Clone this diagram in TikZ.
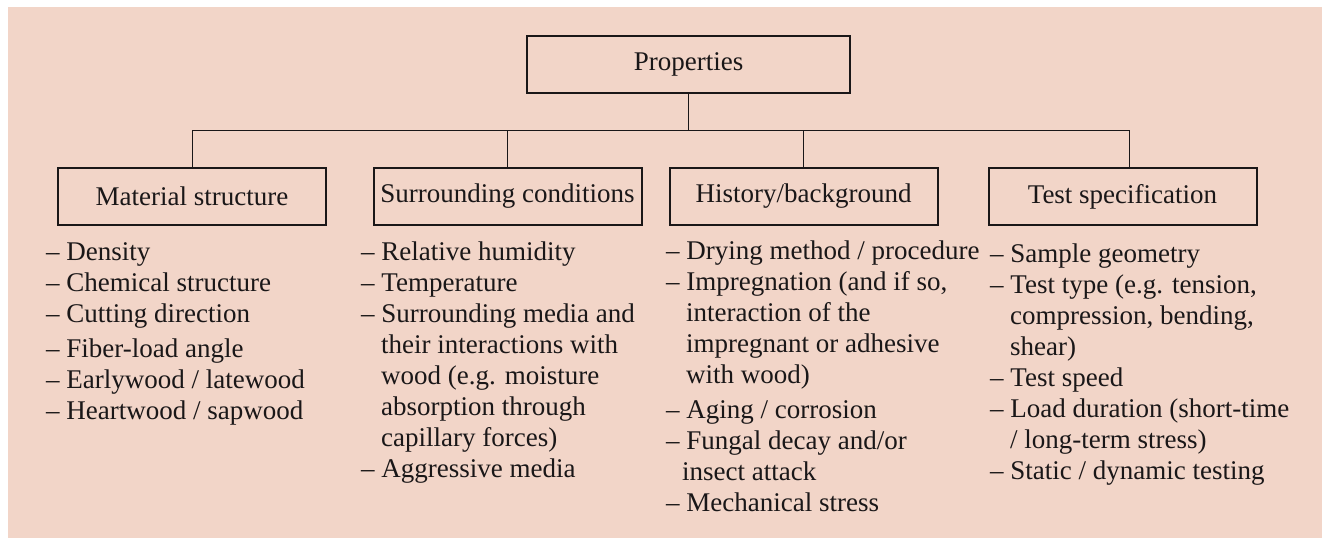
\documentclass[tikz,border=0pt]{standalone}
\usepackage{fontspec}
\setmainfont{Liberation Serif}
\definecolor{bgpink}{HTML}{F2D5C8}
\definecolor{ink}{HTML}{1A1718}
\newcommand{\ind}{\hspace*{20pt}}
\begin{document}
\begin{tikzpicture}[x=1pt,y=-1pt,
  every node/.style={text=ink,font=\fontsize{27}{31}\selectfont},
  catbox/.style={draw=ink,line width=2pt,minimum width=268pt,minimum height=57pt,inner sep=0pt},
  topbox/.style={catbox,minimum width=323pt},
  itemlist/.style={anchor=north west,align=left,inner sep=0pt},
  link/.style={draw=ink,line width=1pt}]
\useasboundingbox (0,0) rectangle (1322,538);
\fill[bgpink] (8,7) rectangle (1322,538);
\node[topbox] (prop) at (688.5,64.5) {Properties};
\node[catbox] (mat) at (192,196.5) {Material structure};
\node[catbox] (sur) at (507.5,196.5) {Surrounding conditions};
\node[catbox] (hist) at (803.5,196.5) {History/background};
\node[catbox] (test) at (1122.5,196.5) {Test specification};
\coordinate (bus) at (688.5,130);
\draw[link] (prop.south) -- (bus);
\draw[link] (mat.north) |- (bus);
\draw[link] (bus) -| ([xshift=7pt]test.north);
\draw[link] (sur.north) -- (sur.north |- bus);
\draw[link] (hist.north) -- (hist.north |- bus);
\node[itemlist] (matlist) at (46,239) {\strut– Density\\
– Chemical structure\\
– Cutting direction\\[4pt]
– Fiber-load angle\\
– Earlywood / latewood\\
– Heartwood / sapwood};
\node[itemlist] (surlist) at (361,239) {\strut– Relative humidity\\
– Temperature\\
– Surrounding media and\\
\ind their interactions with\\
\ind wood (e.g. moisture\\
\ind absorption through\\
\ind capillary forces)\\
– Aggressive media};
\node[itemlist] (histlist) at (666,238) {\strut– Drying method / procedure\\
– Impregnation (and if so,\\
\ind interaction of the\\
\ind impregnant or adhesive\\
\ind with wood)\\[4pt]
– Aging / corrosion\\
– Fungal decay and/or\\
\hspace*{16pt}insect attack\\
– Mechanical stress};
\node[itemlist] (testlist) at (990,241) {\strut– Sample geometry\\
– Test type (e.g. tension,\\
\ind compression, bending,\\
\ind shear)\\
– Test speed\\
– Load duration (short-time\\
\ind / long-term stress)\\
– Static / dynamic testing};
\end{tikzpicture}
\end{document}
